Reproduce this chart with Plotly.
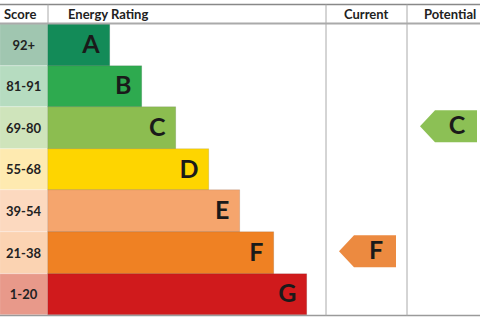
import plotly.graph_objects as go

# ---- data ----
ratings = ["A", "B", "C", "D", "E", "F", "G"]
score_bands = ["92+", "81-91", "69-80", "55-68", "39-54", "21-38", "1-20"]
band_lengths = [62, 94, 128, 161, 192, 226, 259]
band_colors = ["#138b58", "#2eaa4f", "#8cbd50", "#fed500", "#f5a56d", "#ef8123", "#d01a1c"]
score_colors = ["#a0c6b0", "#b6dcc0", "#cfe4bb", "#feeab0", "#fcd9bf", "#fbd3b2", "#e8998a"]
headers = ["Score", "Energy Rating", "Current", "Potential"]
current_rating = "F"
potential_rating = "C"
arrow_colors = {"F": "#ec8a40", "C": "#8cc055"}

# ---- geometry (pixel-like x units, row-index y units) ----
W, H = 480, 320
score_w = 48
cur_left, pot_left = 326, 407
row_px = 41.6
top_px = 24
def py(p):  # pixel y -> row units
    return (p - top_px) / row_px - 0.5

rows = list(range(len(ratings)))
font_fam = "Lato, 'Open Sans', sans-serif"
letter_size = 25

fig = go.Figure()

# score column
fig.add_trace(go.Bar(
    orientation="h", y=rows, x=[score_w] * len(rows), base=0, width=1,
    marker=dict(color=score_colors, line=dict(color="rgba(255,255,255,0.5)", width=0.5)),
    text=score_bands, textposition="inside", insidetextanchor="middle", textangle=0,
    textfont=dict(family=font_fam, size=13, color="#222", weight="bold"),
    hoverinfo="skip", showlegend=False,
))

# rating bars
fig.add_trace(go.Bar(
    orientation="h", y=rows, x=band_lengths, base=score_w, width=1,
    marker=dict(color=band_colors, line=dict(color="rgba(0,0,0,0.18)", width=0.6)),
    hoverinfo="skip", showlegend=False,
))

# rating letters
fig.add_trace(go.Scatter(
    x=[score_w + L - 10.5 for L in band_lengths], y=[r + 0.04 for r in rows], mode="text",
    text=ratings, textposition="middle left",
    textfont=dict(family=font_fam, size=letter_size, color="#1a1a1a", weight="bold"),
    hoverinfo="skip", showlegend=False,
))

# arrows
def add_arrow(rating, col_left):
    i = ratings.index(rating)
    x0, xb, x1 = col_left + 13, col_left + 28, col_left + 70
    h = 16 / row_px
    yc = i - 0.04
    xs = [x0, xb, x1, x1, xb, x0]
    ys = [yc, yc - h, yc - h, yc + h, yc + h, yc]
    fig.add_trace(go.Scatter(x=xs, y=ys, mode="lines", fill="toself",
                             fillcolor=arrow_colors[rating], line=dict(width=0),
                             hoverinfo="skip", showlegend=False))
    fig.add_trace(go.Scatter(x=[(xb + x1) / 2 + 1], y=[yc + 0.04], mode="text", text=[rating],
                             textposition="middle center",
                             textfont=dict(family=font_fam, size=letter_size, color="#1a1a1a", weight="bold"),
                             hoverinfo="skip", showlegend=False))

add_arrow(current_rating, cur_left)
add_arrow(potential_rating, pot_left)

# header text
hy = py(14)
header_x = [20, 108, 366, 450]
for t, x in zip(headers, header_x):
    fig.add_annotation(x=x, y=hy, text=t, showarrow=False, xanchor="center", yanchor="middle",
                       font=dict(family=font_fam, size=13, color="#222", weight="bold"))

# grid lines
line_gray = "#9a9a9a"
shapes = [
    dict(type="line", x0=0, x1=W, y0=py(4.5), y1=py(4.5), line=dict(color="#888", width=1.5)),
    dict(type="line", x0=0, x1=W, y0=py(23.5), y1=py(23.5), line=dict(color="#aaa", width=2)),
    dict(type="line", x0=0, x1=W, y0=py(315.5), y1=py(315.5), line=dict(color=line_gray, width=1.5)),
    dict(type="line", x0=score_w, x1=score_w, y0=py(4.5), y1=py(23.5), line=dict(color="#aaa", width=1)),
    dict(type="line", x0=cur_left, x1=cur_left, y0=py(4.5), y1=py(315.5), line=dict(color="#aaa", width=1)),
    dict(type="line", x0=pot_left, x1=pot_left, y0=py(4.5), y1=py(315.5), line=dict(color="#aaa", width=1)),
]
fig.update_layout(shapes=shapes)

fig.update_layout(
    width=W, height=H, autosize=False,
    margin=dict(l=0, r=0, t=0, b=0),
    paper_bgcolor="white", plot_bgcolor="white",
    barmode="overlay", bargap=0,
    xaxis=dict(range=[0, W], visible=False, fixedrange=True),
    yaxis=dict(range=[py(H), py(0)], visible=False, fixedrange=True),
    showlegend=False,
)

fig.write_html("out.html", config={"displayModeBar": False})
